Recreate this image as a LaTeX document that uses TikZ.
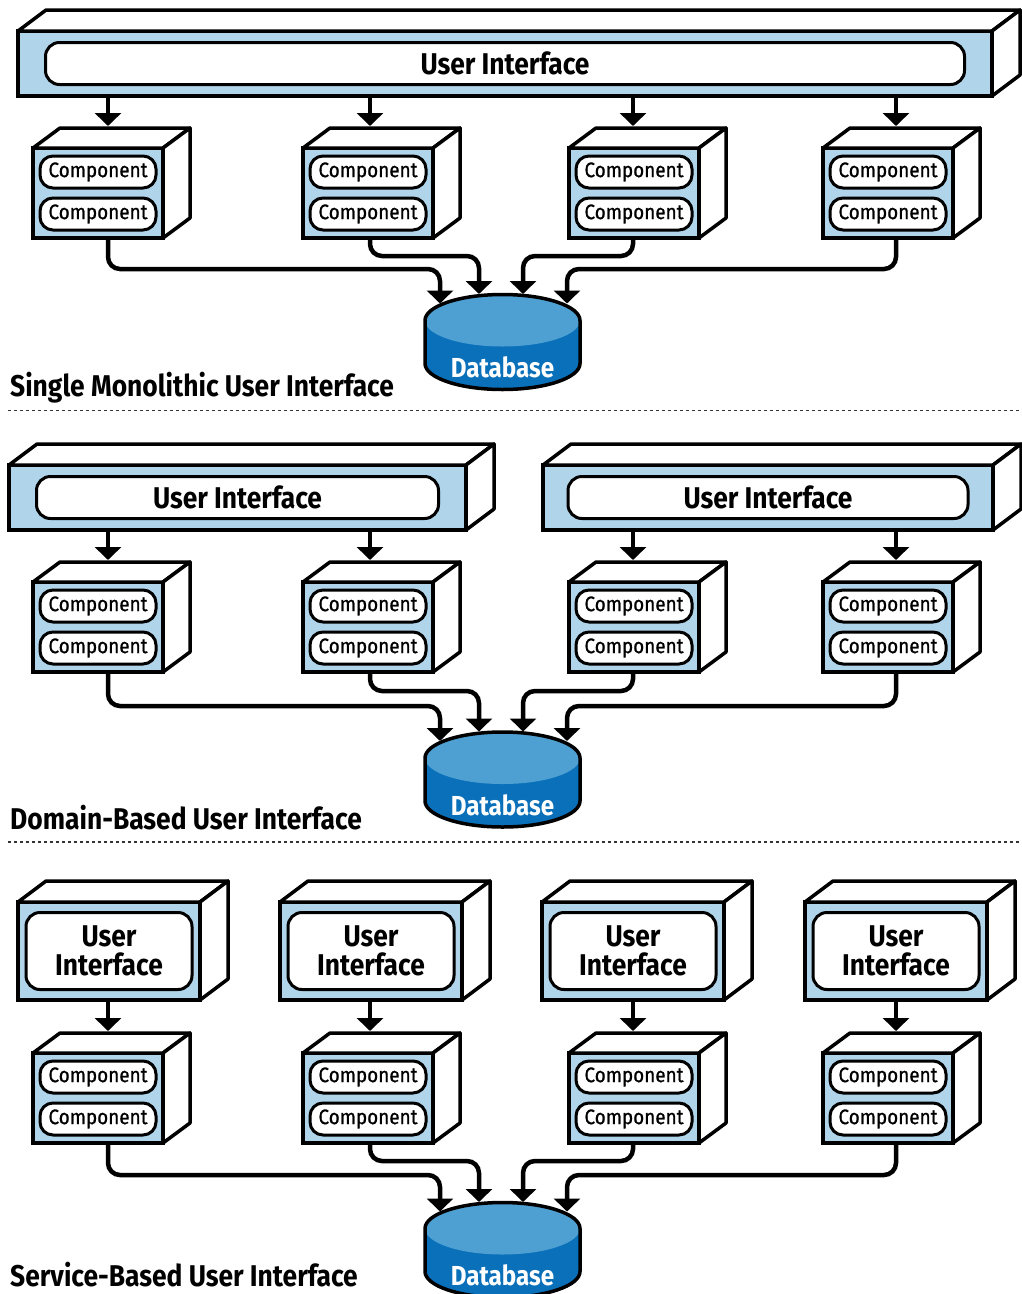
\documentclass[tikz,border=0pt]{standalone}
\usepackage{fontspec}
\setmainfont{Fira Sans}
\newfontfamily\cfont[FakeStretch=0.9,FakeBold=0.8]{Fira Sans}
\newfontfamily\bfont[FakeStretch=0.88]{Fira Sans}
\usetikzlibrary{arrows.meta,calc}
\definecolor{frameblue}{HTML}{B0D4EA}
\definecolor{dblight}{HTML}{4FA0D2}
\definecolor{dbdark}{HTML}{0A70B9}
\tikzset{
  edge/.style={line width=3.5pt, line join=round},
  compfront/.style={draw, line width=3.5pt, fill=frameblue, minimum width=130, minimum height=90, inner sep=0, outer sep=0},
  uifront/.style={draw, line width=3.5pt, fill=frameblue, inner sep=0, outer sep=0},
  cpill/.style={draw, fill=white, line width=3pt, rounded corners=13pt, minimum width=116, minimum height=32, inner sep=0, font=\cfont\fontsize{21}{21}\selectfont},
  uipill/.style={draw, fill=white, line width=3pt, rounded corners=14pt, inner sep=0, align=center, font=\bfont\bfseries\fontsize{30}{29}\selectfont},
  arr/.style={line width=4.5pt, -{Triangle[width=26pt,length=13pt]}},
  route/.style={arr, rounded corners=12pt},
  title/.style={inner sep=0, font=\bfont\bfseries\fontsize{30}{30}\selectfont},
  dbtext/.style={inner sep=0, text=white, font=\bfont\bfseries\fontsize{27.5}{27.5}\selectfont},
  sep/.style={line width=1.5pt, dash pattern=on 3pt off 3pt, draw=black!80}
}
% component box: name, x, y (front top-left), axis x
\newcommand\compbox[4]{%
  \node[compfront, anchor=north west] (#1) at (#2,#3) {};
  \draw[edge, fill=white] (#1.north west) -- ++(27,-20) -- ++(130,0) -- (#1.north east) -- cycle;
  \draw[edge, fill=white] (#1.north east) -- ++(27,-20) -- ++(0,90) -- (#1.south east) -- cycle;
  \node[cpill] (#1-a) at ($(#1.north)+(0,24)$) {Component};
  \node[cpill] (#1-b) at ($(#1.north)+(0,66)$) {Component};
  \coordinate (#1-in) at (#4,#3-22);
  \coordinate (#1-out) at (#4,#3+90);
}
% UI box: name, x, y, w, h, pill w, pill h, text
\newcommand\uibox[8]{%
  \node[uifront, anchor=north west, minimum width=#4, minimum height=#5] (#1) at (#2,#3) {};
  \draw[edge, fill=white] (#1.north west) -- ++(28,-21) -- ++(#4,0) -- (#1.north east) -- cycle;
  \draw[edge, fill=white] (#1.north east) -- ++(28,-21) -- ++(0,#5) -- (#1.south east) -- cycle;
  \node[uipill, minimum width=#6, minimum height=#7] (#1-p) at (#1.center) {#8};
}
% database: name, cx, cy (top ellipse centre)
\newcommand\dbase[3]{%
  \node[inner sep=0, minimum size=0] (#1) at (#2,#3) {};
  \begin{scope}[shift={(#1)}, x=1pt, y=1pt]
    \fill[dbdark] (-77.5,0) -- (-77.5,-43) arc[start angle=180, end angle=360, x radius=77.5pt, y radius=26pt] -- (77.5,0) -- cycle;
    \fill[dblight] (0,0) ellipse[x radius=77.5pt, y radius=26pt];
    \draw[edge] (-77.5,-43) -- (-77.5,0) arc[start angle=180, end angle=0, x radius=77.5pt, y radius=26pt] -- (77.5,-43) arc[start angle=0, end angle=-180, x radius=77.5pt, y radius=26pt] -- cycle;
    \node[dbtext, anchor=base] (#1-l) at (0,-57) {Database};
    \coordinate (#1-1) at (-62.5,17);
    \coordinate (#1-2) at (-23.5,26.5);
    \coordinate (#1-3) at (20.5,26.5);
    \coordinate (#1-4) at (64.5,17);
  \end{scope}
}
\begin{document}
\begin{tikzpicture}[x=1pt, y=-1pt]
\useasboundingbox (0,0) rectangle (1022,1294);
\fill[white] (0,0) rectangle (1022,1294);

% ---------- Section 1 ----------
\uibox{ui1}{18}{31}{974}{65}{919}{42}{User Interface}
\compbox{c1}{33}{148}{108}
\compbox{c2}{303}{148}{370}
\compbox{c3}{569}{148}{633}
\compbox{c4}{823}{148}{896}
\foreach \c in {c1,c2,c3,c4} \draw[arr] (\c-in |- ui1.south) -- (\c-in);
\dbase{db1}{502.5}{320.5}
\draw[route] (c1-out) -- ++(0,31) -| (db1-1);
\draw[route] (c2-out) -- ++(0,18) -| (db1-2);
\draw[route] (c3-out) -- ++(0,18) -| (db1-3);
\draw[route] (c4-out) -- ++(0,31) -| (db1-4);
\node[title, anchor=base west] (t1) at (10,396) {Single Monolithic User Interface};
\draw[sep] (8,410.5) -- (1022,410.5);

% ---------- Section 2 ----------
\uibox{ui2a}{9}{465}{457}{65}{402}{42}{User Interface}
\uibox{ui2b}{543}{465}{450}{65}{400}{42}{User Interface}
\compbox{c5}{33}{582}{108}
\compbox{c6}{303}{582}{370}
\compbox{c7}{569}{582}{633}
\compbox{c8}{823}{582}{896}
\draw[arr] (c5-in |- ui2a.south) -- (c5-in);
\draw[arr] (c6-in |- ui2a.south) -- (c6-in);
\draw[arr] (c7-in |- ui2b.south) -- (c7-in);
\draw[arr] (c8-in |- ui2b.south) -- (c8-in);
\dbase{db2}{502.5}{758}
\draw[route] (c5-out) -- ++(0,34) -| (db2-1);
\draw[route] (c6-out) -- ++(0,19) -| (db2-2);
\draw[route] (c7-out) -- ++(0,19) -| (db2-3);
\draw[route] (c8-out) -- ++(0,34) -| (db2-4);
\node[title, anchor=base west] (t2) at (10,829) {Domain-Based User Interface};
\draw[sep] (8,842) -- (1022,842);

% ---------- Section 3 ----------
\uibox{ui3a}{18}{902}{182}{98}{166}{77}{User\\Interface}
\uibox{ui3b}{280}{902}{182}{98}{166}{77}{User\\Interface}
\uibox{ui3c}{542}{902}{182}{98}{166}{77}{User\\Interface}
\uibox{ui3d}{805}{902}{182}{98}{166}{77}{User\\Interface}
\compbox{c9}{33}{1053}{108}
\compbox{c10}{303}{1053}{370}
\compbox{c11}{569}{1053}{633}
\compbox{c12}{823}{1053}{896}
\draw[arr] (c9-in |- ui3a.south) -- (c9-in);
\draw[arr] (c10-in |- ui3b.south) -- (c10-in);
\draw[arr] (c11-in |- ui3c.south) -- (c11-in);
\draw[arr] (c12-in |- ui3d.south) -- (c12-in);
\dbase{db3}{502.5}{1228.5}
\draw[route] (c9-out) -- ++(0,32) -| (db3-1);
\draw[route] (c10-out) -- ++(0,18) -| (db3-2);
\draw[route] (c11-out) -- ++(0,18) -| (db3-3);
\draw[route] (c12-out) -- ++(0,32) -| (db3-4);
\node[title, anchor=base west] (t3) at (10,1286) {Service-Based User Interface};
\end{tikzpicture}
\end{document}
